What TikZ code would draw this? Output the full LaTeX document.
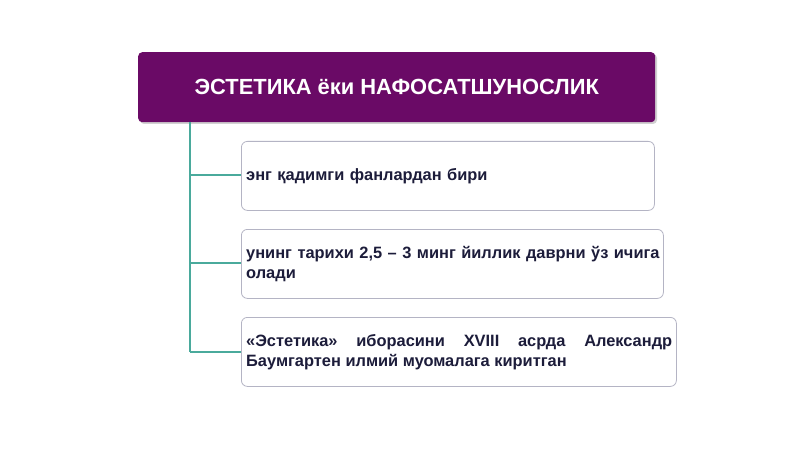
\documentclass[tikz,border=0pt]{standalone}
\usepackage{fontspec}
\setmainfont{Liberation Sans}
\definecolor{titlepurple}{HTML}{6A0A66}
\definecolor{boxline}{HTML}{B4B4C4}
\definecolor{conn}{HTML}{4AAA9C}
\definecolor{txt}{HTML}{1C1C3A}
\begin{document}
\begin{tikzpicture}[x=1pt,y=-1pt,
  titlebox/.style={draw=none,fill=titlepurple,rounded corners=4pt,minimum width=517pt,minimum height=70pt,anchor=north west,inner sep=0pt,text=white,font=\fontsize{21.9}{26}\selectfont\bfseries},
  itembox/.style={draw=boxline,line width=0.8pt,fill=white,rounded corners=6pt,anchor=north west,inner sep=0pt,minimum height=69pt},
  itemtext/.style={anchor=west,inner sep=0pt,text=txt,font=\fontsize{16.4}{20}\selectfont\bfseries},
  connline/.style={draw=conn,line width=1.4pt}]
\useasboundingbox (0,0) rectangle (800,449);
\fill[white] (0,0) rectangle (800,449);
\fill[black!18,rounded corners=4pt] (140,54) rectangle (657,124);
\node[titlebox] (title) at (138,52) {ЭСТЕТИКА ёки НАФОСАТШУНОСЛИК};
\node[itembox,minimum width=413pt] (b1) at (241,141) {};
\node[itembox,minimum width=422pt] (b2) at (241,229) {};
\node[itembox,minimum width=435pt] (b3) at (241,317) {};
\node[itemtext,text width=404pt,align=left] (t1) at ([xshift=5pt]b1.west) {энг қадимги фанлардан бири};
\node[itemtext,text width=418pt,align=left] (t2) at ([xshift=5pt]b2.west) {унинг тарихи 2,5 – 3 минг йиллик даврни ўз ичига олади};
\node[itemtext,text width=426pt,align=justify] (t3) at ([xshift=5pt]b3.west) {«Эстетика» иборасини XVIII асрда Александр Баумгартен илмий муомалага киритган};
\coordinate (top) at (190,122);
\coordinate (j1) at (190,175);
\coordinate (j2) at (190,263);
\coordinate (j3) at (190,352);
\draw[connline] (top) -- (j3);
\draw[connline] (j1) -- (j1 -| b1.west);
\draw[connline] (j2) -- (j2 -| b2.west);
\draw[connline] (j3) -- (j3 -| b3.west);
\end{tikzpicture}
\end{document}
